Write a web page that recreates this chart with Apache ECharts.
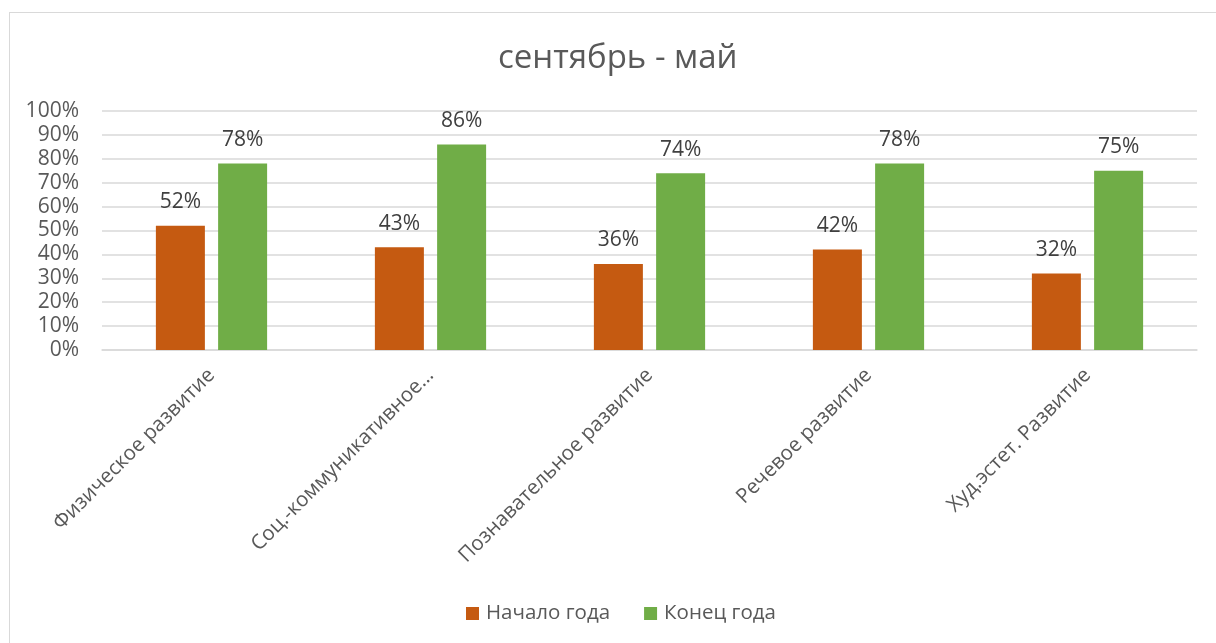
<!DOCTYPE html>
<html>
<head>
<meta charset="utf-8">
<script src="https://cdn.jsdelivr.net/npm/echarts@6/dist/echarts.min.js"></script>
<style>
html,body{margin:0;padding:0;background:#fff;}
#frame{position:absolute;left:9px;top:12px;width:1300px;height:700px;border-left:1px solid #d9d9d9;border-top:1px solid #d9d9d9;}
#chart{position:absolute;left:0;top:0;width:1216px;height:643px;}
</style>
</head>
<body>
<div id="frame"></div>
<div id="chart"></div>
<script>
const categories = ['Физическое развитие', 'Соц.-коммуникативное…', 'Познавательное развитие', 'Речевое развитие', 'Худ.эстет. Развитие'];
const startValues = [52, 43, 36, 42, 32];
const endValues = [78, 86, 74, 78, 75];
const seriesNames = ['Начало года', 'Конец года'];
const titleText = 'сентябрь - май';

const FONT = '"Open Sans", "Noto Sans", sans-serif';
const chart = echarts.init(document.getElementById('chart'), null, {renderer: 'canvas'});
const labelCfg = {
  show: true, position: 'top', distance: 13,
  formatter: p => p.value + '%',
  color: '#404040', fontSize: 21, fontFamily: FONT
};
chart.setOption({
  animation: false,
  backgroundColor: 'transparent',
  title: {
    text: titleText, left: 493, top: 37,
    textStyle: {color: '#595959', fontSize: 33, fontWeight: 'normal', fontFamily: FONT}
  },
  legend: {
    bottom: 14, left: 461, itemWidth: 13, itemHeight: 13, itemGap: 34,
    icon: 'rect',
    textStyle: {color: '#595959', fontSize: 20.5, fontFamily: FONT, padding: [0, 0, 0, 2]},
    data: seriesNames
  },
  grid: {left: 102, right: 19, top: 111, bottom: 293, containLabel: false},
  xAxis: {
    type: 'category', data: categories,
    axisLine: {show: true, lineStyle: {color: '#d9d9d9', width: 1.5}},
    axisTick: {show: false},
    axisLabel: {rotate: 45, interval: 0, color: '#595959', fontSize: 20.5, fontFamily: FONT, margin: 22}
  },
  yAxis: {
    type: 'value', min: 0, max: 100, interval: 10,
    axisLine: {show: false}, axisTick: {show: false},
    axisLabel: {formatter: '{value}%', color: '#595959', fontSize: 21, fontFamily: FONT, margin: 23},
    splitLine: {lineStyle: {color: '#d9d9d9', width: 1.5}}
  },
  series: [
    {name: seriesNames[0], type: 'bar', data: startValues, barWidth: 49, barGap: '27%',
     itemStyle: {color: '#C55A11'}, label: labelCfg},
    {name: seriesNames[1], type: 'bar', data: endValues, barWidth: 49,
     itemStyle: {color: '#70AD47'}, label: labelCfg}
  ]
});
</script>
</body>
</html>
